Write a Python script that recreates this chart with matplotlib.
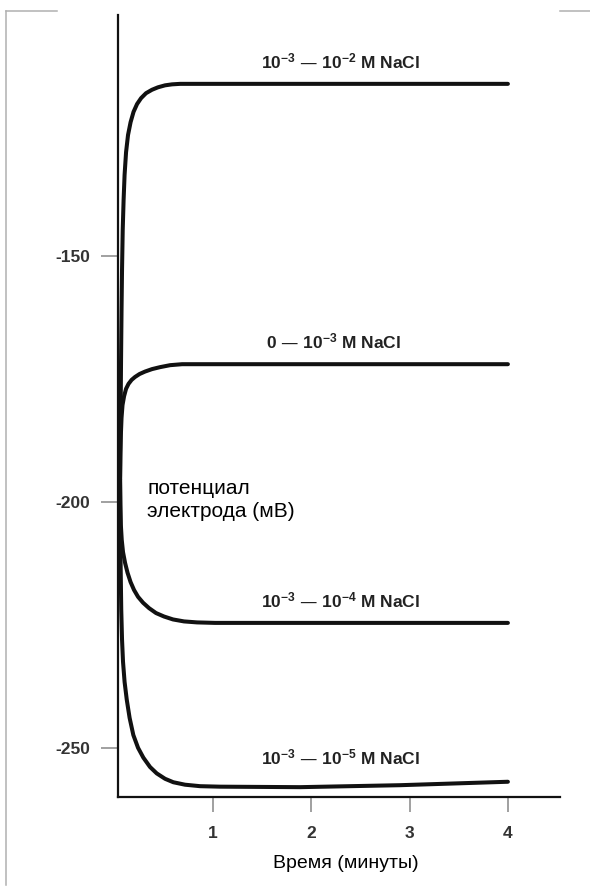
import matplotlib.pyplot as plt
from matplotlib.lines import Line2D

# time (minutes) and electrode potential (mV)
t_1 = [0.054, 0.059, 0.064, 0.069, 0.074, 0.081, 0.090, 0.100, 0.115, 0.135, 0.161, 0.191,
       0.227, 0.268, 0.318, 0.379, 0.440, 0.512, 0.583, 0.665, 4.0]
v_1 = [-195.5, -183.3, -171.1, -161.0, -152.8, -144.7, -138.6, -133.5, -128.9, -125.4, -122.8,
       -120.7, -119.1, -117.9, -116.9, -116.2, -115.7, -115.3, -115.1, -115.0, -115.0]

t_2 = [0.054, 0.057, 0.062, 0.069, 0.079, 0.095, 0.115, 0.140, 0.171, 0.206, 0.252, 0.308,
       0.379, 0.461, 0.563, 0.685, 0.817, 4.0]
v_2 = [-195.5, -190.4, -186.4, -182.9, -180.3, -178.5, -177.0, -176.0, -175.2, -174.6, -174.0,
       -173.5, -173.0, -172.6, -172.2, -172.0, -172.0, -172.0]

t_3 = [0.054, 0.057, 0.062, 0.071, 0.084, 0.105, 0.130, 0.161, 0.196, 0.237, 0.288, 0.349,
       0.420, 0.501, 0.593, 0.705, 0.837, 1.02, 4.0]
v_3 = [-195.5, -200.6, -204.7, -207.7, -210.2, -212.4, -214.4, -216.3, -217.9, -219.3, -220.5,
       -221.6, -222.6, -223.3, -223.9, -224.3, -224.5, -224.6, -224.6]

t_4 = [0.054, 0.059, 0.066, 0.074, 0.084, 0.100, 0.122, 0.151, 0.189, 0.237, 0.291, 0.359,
       0.427, 0.512, 0.596, 0.715, 0.868, 1.071, 1.885, 2.902, 4.0]
v_4 = [-195.5, -211.8, -221.9, -228.0, -232.5, -236.6, -240.2, -243.9, -247.4, -250.0, -252.0,
       -253.9, -255.2, -256.3, -257.0, -257.5, -257.8, -257.9, -258.0, -257.6, -256.9]

series_labels = [r'$10^{-3}$ — $10^{-2}$ M NaCl', r'0 — $10^{-3}$ M NaCl',
                 r'$10^{-3}$ — $10^{-4}$ M NaCl', r'$10^{-3}$ — $10^{-5}$ M NaCl']
label_pos = [(2.3, -110.4), (2.23, -167.3), (2.3, -220.0), (2.3, -252.0)]

x_ticks = [1, 2, 3, 4]
y_ticks = [-150, -200, -250]

bold_font = ['Liberation Sans', 'DejaVu Sans']
plain_font = ['Liberation Sans', 'DejaVu Sans']
plt.rcParams['mathtext.default'] = 'regular'

fig = plt.figure(figsize=(5.9, 8.9), dpi=100)
ax = fig.add_axes([118 / 590, 93 / 890, 442 / 590, 782 / 890])

for t, v in [(t_1, v_1), (t_2, v_2), (t_3, v_3), (t_4, v_4)]:
    ax.plot(t, v, color='#111111', lw=2.9, solid_joinstyle='round', solid_capstyle='round')

for lab, (x, y) in zip(series_labels, label_pos):
    ax.text(x, y, lab, ha='center', va='center', fontsize=12.5, fontweight='bold',
            family=bold_font, color='#222222')

ax.text(0.33, -199.6, 'потенциал\nэлектрода (мВ)', ha='left', va='center',
        fontsize=15, family=plain_font, linespacing=1.25)

ax.set_xlim(0.033, 4.53)
ax.set_ylim(-260, -101)
ax.set_xticks(x_ticks)
ax.set_yticks(y_ticks)
ax.set_xticklabels([str(x) for x in x_ticks], fontweight='bold', family=bold_font)
ax.set_yticklabels([str(y) for y in y_ticks], fontweight='bold', family=bold_font)
ax.tick_params(axis='both', colors='#999999', labelcolor='#333333', width=1.3, labelsize=12.5)
ax.tick_params(axis='y', length=12, pad=8)
ax.tick_params(axis='x', length=11, pad=10)

for s in ['top', 'right']:
    ax.spines[s].set_visible(False)
for s in ['left', 'bottom']:
    ax.spines[s].set_linewidth(1.6)
    ax.spines[s].set_color('#111111')

ax.set_xlabel('Время (минуты)', fontsize=14, family=plain_font, labelpad=10, x=0.516)

# thin gray frame of the original scan
fw, fh = 590, 890
frame = [([6, 6], [11, 885]), ([6, 57], [11, 11]), ([560, 590], [11, 11])]
for xs, ys in frame:
    fig.add_artist(Line2D([x / fw for x in xs], [1 - y / fh for y in ys],
                          color='#b0b0b0', lw=1.1))

fig.savefig('out.png', dpi=100)
